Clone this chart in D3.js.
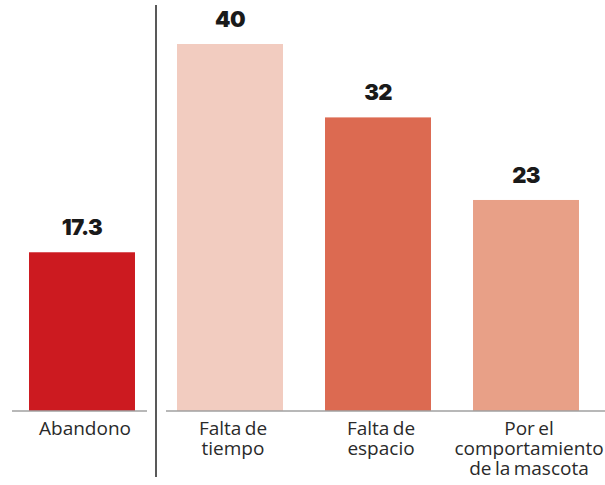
<!DOCTYPE html>
<html>
<head>
<meta charset="utf-8">
<script src="https://cdn.jsdelivr.net/npm/d3@7"></script>
<style>
  body { margin: 0; background: #fff; }
  .value { font-family: Inter, sans-serif; font-weight: 900; font-size: 22px; fill: #1a1a1a; letter-spacing: -0.6px; }
  .cat { font-family: "Open Sans", sans-serif; font-size: 19px; fill: #2a2a2a; word-spacing: -1.5px; }
</style>
</head>
<body>
<div id="chart"></div>
<script>
// data
const categories = ["Abandono", "Falta de tiempo", "Falta de espacio", "Por el comportamiento de la mascota"];
const values = [17.3, 40, 32, 23];
const valueLabels = ["17.3", "40", "32", "23"];
const catLines = [["Abandono"], ["Falta de", "tiempo"], ["Falta de", "espacio"], ["Por el", "comportamiento", "de la mascota"]];
const colors = ["#cc1a20", "#f2ccc0", "#dc6a51", "#e8a087"];

const width = 605, height = 485;
const baseY = 411;

const svg = d3.select("#chart")
    .append("svg")
    .attr("width", width)
    .attr("height", height);

const xScale = d3.scaleBand()
    .domain(categories)
    .range([8, 600])
    .paddingInner(0.284)
    .paddingOuter(0.142);

const yScale = d3.scaleLinear()
    .domain([0, 40])
    .range([baseY, 44]);

const rows = categories.map((c, i) => ({cat: c, value: values[i], label: valueLabels[i], lines: catLines[i], color: colors[i]}));

// bars
svg.selectAll("rect.bar")
    .data(rows)
    .enter()
    .append("rect")
        .attr("class", "bar")
        .attr("x", d => xScale(d.cat))
        .attr("y", d => yScale(d.value))
        .attr("width", xScale.bandwidth())
        .attr("height", d => yScale(0) - yScale(d.value))
        .attr("fill", d => d.color);

// baselines: left group and right group
const firstEnd = xScale(categories[0]) + xScale.bandwidth();
const secondStart = xScale(categories[1]);
const divX = (firstEnd + secondStart) / 2;

svg.append("line")
    .attr("x1", xScale(categories[0]) - 17).attr("x2", divX - 9)
    .attr("y1", yScale(0)).attr("y2", yScale(0))
    .attr("stroke", "#a0a0a0").attr("stroke-width", 1.5);

svg.append("line")
    .attr("x1", divX + 10).attr("x2", width)
    .attr("y1", yScale(0)).attr("y2", yScale(0))
    .attr("stroke", "#a0a0a0").attr("stroke-width", 1.5);

// divider
svg.append("line")
    .attr("x1", divX).attr("x2", divX)
    .attr("y1", 5).attr("y2", 477)
    .attr("stroke", "#222").attr("stroke-width", 1.5);

// value labels
svg.selectAll("text.value")
    .data(rows)
    .enter()
    .append("text")
        .attr("class", "value")
        .attr("text-anchor", "middle")
        .attr("x", d => xScale(d.cat) + xScale.bandwidth() / 2)
        .attr("y", d => yScale(d.value) - 17)
        .text(d => d.label);

// category labels
const cats = svg.selectAll("text.cat")
    .data(rows)
    .enter()
    .append("text")
        .attr("class", "cat")
        .attr("text-anchor", "middle")
        .attr("x", d => xScale(d.cat) + xScale.bandwidth() / 2 + 3)
        .attr("y", baseY + 24);

cats.selectAll("tspan")
    .data(d => d.lines.map(l => ({l: l, x: xScale(d.cat) + xScale.bandwidth() / 2 + 3})))
    .enter()
    .append("tspan")
        .attr("x", d => d.x)
        .attr("dy", (d, i) => i === 0 ? 0 : 20)
        .text(d => d.l);
</script>
</body>
</html>
